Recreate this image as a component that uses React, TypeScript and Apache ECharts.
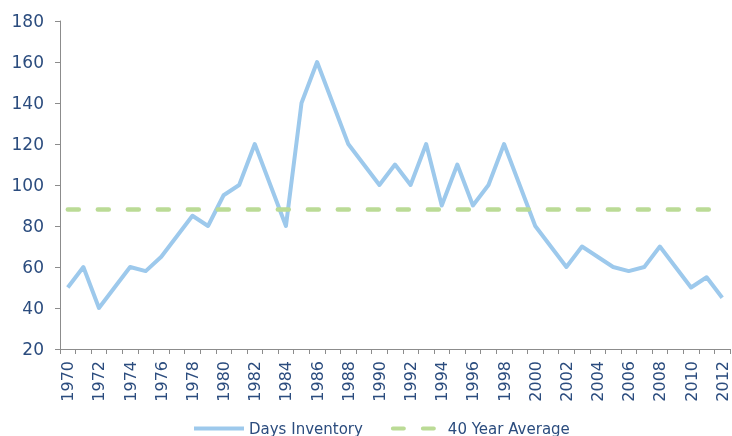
import React, { useEffect, useRef } from "react";
import * as echarts from "echarts";

const years: string[] = [
  "1970", "1971", "1972", "1973", "1974", "1975", "1976", "1977", "1978", "1979",
  "1980", "1981", "1982", "1983", "1984", "1985", "1986", "1987", "1988", "1989",
  "1990", "1991", "1992", "1993", "1994", "1995", "1996", "1997", "1998", "1999",
  "2000", "2001", "2002", "2003", "2004", "2005", "2006", "2007", "2008", "2009",
  "2010", "2011", "2012",
];

const daysInventory: number[] = [
  50, 60, 40, 50, 60, 58, 65, 75, 85, 80,
  95, 100, 120, 100, 80, 140, 160, 140, 120, 110,
  100, 110, 100, 120, 90, 110, 90, 100, 120, 100,
  80, 70, 60, 70, 65, 60, 58, 60, 70, 60,
  50, 55, 45,
];

const fortyYearAverage = 88;
const averageSeries: number[] = years.map(() => fortyYearAverage);

const seriesNames = ["Days Inventory", "40 Year Average"];

const TEXT = "#2B4C7E";
const AXIS = "#8C8C8C";
const FONT = "DejaVu Sans";

export default function App() {
  const ref = useRef<HTMLDivElement>(null);
  useEffect(() => {
    if (!ref.current) return;
    const chart = echarts.init(ref.current, null, { renderer: "svg" });
    chart.setOption({
      animation: false,
      grid: { left: 60, right: 2, top: 21, bottom: 87, containLabel: false },
      legend: {
        left: 187,
        top: 416,
        itemWidth: 50,
        itemHeight: 14,
        itemGap: 28,
        itemStyle: { opacity: 0 },
        lineStyle: { width: 4 },
        textStyle: { color: TEXT, fontFamily: FONT, fontSize: 15 },
        data: seriesNames,
      },
      xAxis: {
        type: "category",
        data: years,
        boundaryGap: true,
        axisLine: { lineStyle: { color: AXIS, width: 1 } },
        axisTick: { show: true, interval: 0, length: 5, lineStyle: { color: AXIS } },
        axisLabel: {
          interval: 1,
          rotate: 90,
          margin: 12,
          color: TEXT,
          fontFamily: FONT,
          fontSize: 16,
          hideOverlap: false,
        },
        splitLine: { show: false },
      },
      yAxis: {
        type: "value",
        min: 20,
        max: 180,
        interval: 20,
        axisLine: { show: true, lineStyle: { color: AXIS, width: 1 } },
        axisTick: { show: true, length: 5, lineStyle: { color: AXIS } },
        axisLabel: { margin: 16, color: TEXT, fontFamily: FONT, fontSize: 17 },
        splitLine: { show: false },
      },
      series: [
        {
          name: seriesNames[0],
          type: "line",
          data: daysInventory,
          symbol: "none",
          lineStyle: { color: "#9DC9EC", width: 4, join: "round" },
          itemStyle: { color: "#9DC9EC" },
        },
        {
          name: seriesNames[1],
          type: "line",
          data: averageSeries,
          symbol: "none",
          lineStyle: { color: "#BBDB96", width: 4.5, type: [11, 19], cap: "round" },
          itemStyle: { color: "#BBDB96" },
        },
      ],
    });
    return () => chart.dispose();
  }, []);
  return (
    <div
      ref={ref}
      style={{ position: "fixed", left: 0, top: 0, width: 732, height: 436 }}
    />
  );
}
